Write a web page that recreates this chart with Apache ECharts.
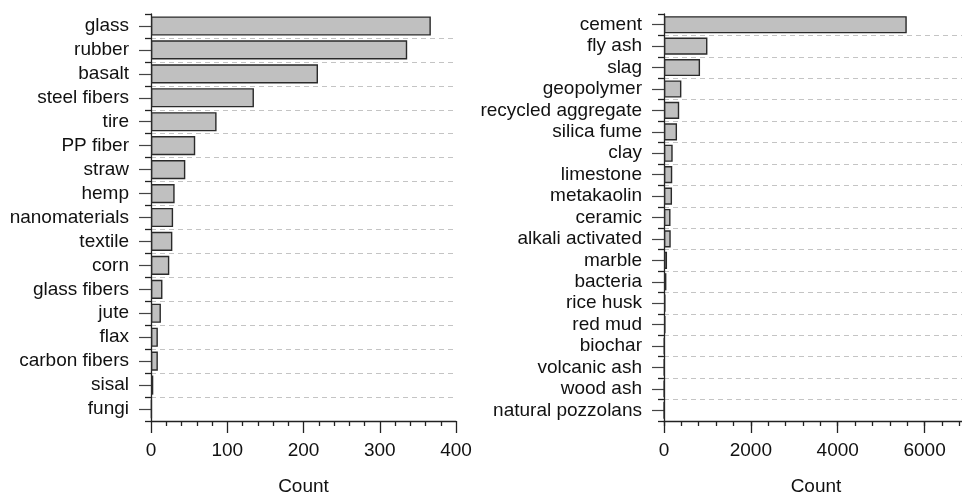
<!DOCTYPE html>
<html>
<head>
<meta charset="utf-8">
<script src="https://cdn.jsdelivr.net/npm/echarts@6/dist/echarts.min.js"></script>
<style>
html,body{margin:0;padding:0;background:#fff;overflow:hidden;}
#chart{width:962px;height:492px;}
</style>
</head>
<body>
<div id="chart"></div>
<script>
const leftCategories = ['glass','rubber','basalt','steel fibers','tire','PP fiber','straw','hemp','nanomaterials','textile','corn','glass fibers','jute','flax','carbon fibers','sisal','fungi'];
const leftValues = [367, 336, 219, 135, 86, 58, 45, 31, 29, 28, 24, 15, 13, 9, 9, 3, 1];
const rightCategories = ['cement','fly ash','slag','geopolymer','recycled aggregate','silica fume','clay','limestone','metakaolin','ceramic','alkali activated','marble','bacteria','rice husk','red mud','biochar','volcanic ash','wood ash','natural pozzolans'];
const rightValues = [5590, 1000, 830, 400, 350, 300, 200, 190, 185, 150, 155, 70, 55, 35, 35, 10, 8, 5, 3];
const leftXTicks = {min: 0, max: 400, interval: 100};
const rightXTicks = {min: 0, max: 7000, interval: 2000, minorInterval: 400};
const xName = 'Count';

const FONT = '"Liberation Sans", Arial, sans-serif';
const TXT = '#111';
const AX = '#222';
const FS = 19;

function catAxisMain(gridIndex, data) {
  return {
    type: 'category', gridIndex, data, inverse: true, position: 'left',
    axisLine: {show: true, lineStyle: {color: AX, width: 1.3}},
    axisTick: {show: true, interval: 0, alignWithLabel: true, length: 12, lineStyle: {color: '#444', width: 1.2}},
    axisLabel: {interval: 0, margin: 22, fontSize: FS, color: TXT, fontFamily: FONT},
    splitLine: {show: false}
  };
}
function catAxisBound(gridIndex, data) {
  return {
    type: 'category', gridIndex, data, inverse: true, position: 'left',
    axisLine: {show: false},
    axisTick: {show: true, interval: 0, alignWithLabel: false, length: 6, lineStyle: {color: AX, width: 1.3}},
    axisLabel: {show: false, interval: 0},
    splitLine: {show: true, interval: 0, showMinLine: false, showMaxLine: false, lineStyle: {color: '#c4c4c4', type: [5, 4], width: 1}}
  };
}

const barStyle = {color: '#c0c0c0', borderColor: '#2a2a2a', borderWidth: 1.4};

const option = {
  animation: false,
  backgroundColor: '#fff',
  grid: [
    {left: 151, top: 14, width: 305, height: 407, outerBoundsMode: 'none', containLabel: false},
    {left: 664, top: 14, right: -6, height: 407, outerBoundsMode: 'none', containLabel: false}
  ],
  xAxis: [
    {
      type: 'value', gridIndex: 0, position: 'bottom',
      min: leftXTicks.min, max: leftXTicks.max, interval: leftXTicks.interval,
      name: xName, nameLocation: 'middle', nameGap: 56,
      nameTextStyle: {fontSize: FS, color: TXT, fontFamily: FONT},
      axisLine: {show: true, lineStyle: {color: AX, width: 1.3}},
      axisTick: {show: true, length: 12, lineStyle: {color: AX, width: 1.3}},
      minorTick: {show: true, splitNumber: 5, length: 5, lineStyle: {color: AX, width: 1.3}},
      axisLabel: {margin: 20, fontSize: FS, color: TXT, fontFamily: FONT},
      splitLine: {show: false}
    },
    {
      type: 'value', gridIndex: 1, position: 'bottom',
      min: rightXTicks.min, max: rightXTicks.max, interval: rightXTicks.interval,
      name: xName, nameLocation: 'middle', nameGap: 56,
      nameTextStyle: {fontSize: FS, color: TXT, fontFamily: FONT},
      axisLine: {show: true, lineStyle: {color: AX, width: 1.3}},
      axisTick: {show: true, length: 12, lineStyle: {color: AX, width: 1.3}},
      axisLabel: {margin: 20, fontSize: FS, color: TXT, fontFamily: FONT, showMaxLabel: false,
        formatter: v => (v % rightXTicks.interval === 0 ? String(v) : '')},
      splitLine: {show: false}
    },
    {
      type: 'value', gridIndex: 1, position: 'bottom',
      min: rightXTicks.min, max: rightXTicks.max, interval: rightXTicks.minorInterval,
      axisLine: {show: false},
      axisTick: {show: true, length: 5, lineStyle: {color: AX, width: 1.3}},
      axisLabel: {show: false},
      splitLine: {show: false}
    }
  ],
  yAxis: [
    catAxisMain(0, leftCategories),
    catAxisBound(0, leftCategories),
    catAxisMain(1, rightCategories),
    catAxisBound(1, rightCategories)
  ],
  series: [
    {type: 'bar', xAxisIndex: 0, yAxisIndex: 0, data: leftValues, barCategoryGap: '20%', itemStyle: barStyle},
    {type: 'bar', xAxisIndex: 1, yAxisIndex: 2, data: rightValues, barCategoryGap: '20%', itemStyle: barStyle}
  ]
};

const chart = echarts.init(document.getElementById('chart'));
chart.setOption(option);
</script>
</body>
</html>
